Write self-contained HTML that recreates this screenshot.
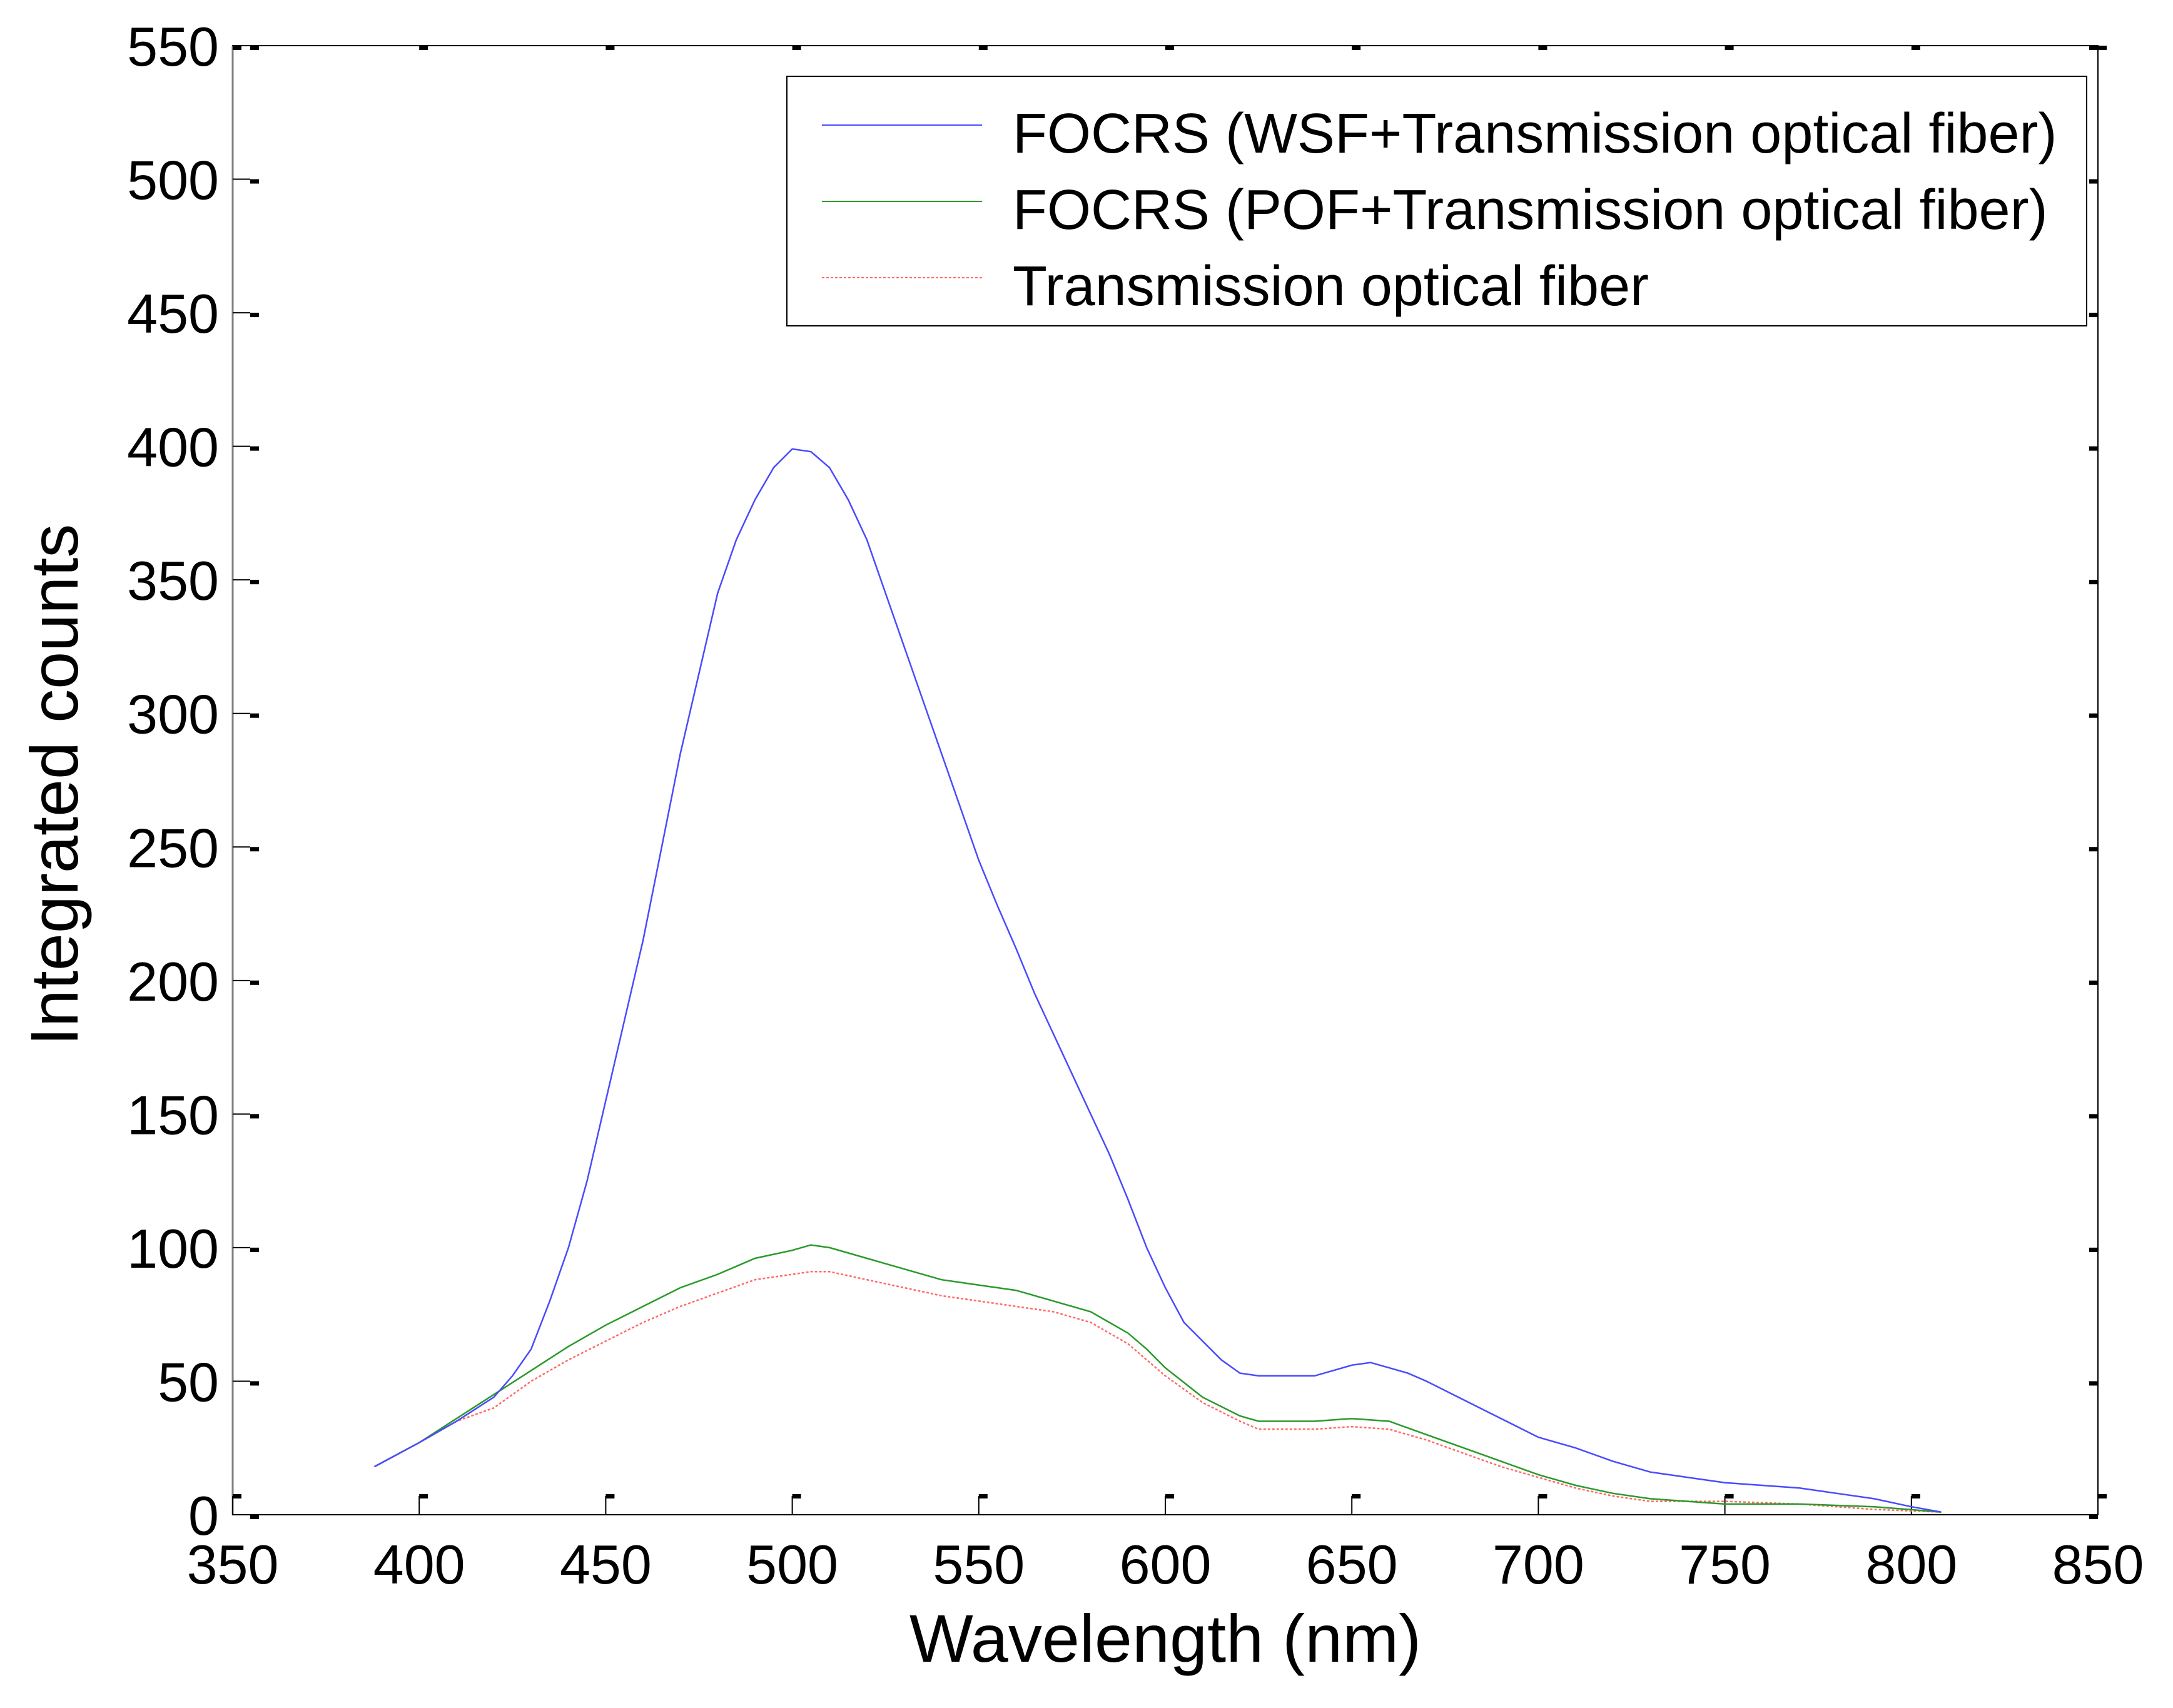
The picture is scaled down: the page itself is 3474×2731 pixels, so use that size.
<!DOCTYPE html>
<html><head><meta charset="utf-8"><style>
html,body{margin:0;padding:0;background:#fff;}
svg text{font-family:"Liberation Sans",Arial,sans-serif;fill:#000;}
</style></head><body>
<svg id="chart" width="3474" height="2726" xmlns="http://www.w3.org/2000/svg">
<rect width="3474" height="2726" fill="#fff"/>
<g id="axes"></g>
<g id="series"></g>
<g id="legend">
 <rect x="1258" y="122" width="2078" height="399" fill="#fff" stroke="#000" stroke-width="2"/>
 <line x1="1314" y1="200" x2="1570" y2="200" stroke="#4a4aff" stroke-width="2"/>
 <text x="1619" y="244" font-size="90">FOCRS (WSF+Transmission optical fiber)</text>
 <line x1="1314" y1="322" x2="1570" y2="322" stroke="#2a9a2a" stroke-width="2"/>
 <text x="1619" y="366" font-size="90">FOCRS (POF+Transmission optical fiber)</text>
 <line x1="1314" y1="444" x2="1570" y2="444" stroke="#ff6a6a" stroke-width="2" stroke-dasharray="4,3"/>
 <text x="1619" y="488" font-size="90">Transmission optical fiber</text>
</g>
<text x="1863" y="2657" font-size="108" text-anchor="middle">Wavelength (nm)</text>
<text transform="translate(124,1255) rotate(-90)" font-size="108" text-anchor="middle">Integrated counts</text>
</svg>
<script>
const xTicks=[350,400,450,500,550,600,650,700,750,800,850];
const yTicks=[0,50,100,150,200,250,300,350,400,450,500,550];
const wavelengths=[388,400,410,420,425,430,435,440,445,450,455,460,465,470,475,480,485,490,495,500,505,510,515,520,525,530,535,540,545,550,555,560,565,570,575,580,585,590,595,600,605,610,615,620,625,630,640,645,650,655,660,665,670,680,690,700,710,720,730,740,750,760,770,780,790,800,808];
const wsfCounts=[18,27,35,44,52,62,80,100,125,155,185,215,250,285,315,345,365,380,392,399,398,392,380,365,345,325,305,285,265,245,228,212,195,180,165,150,135,118,100,85,72,65,58,53,52,52,52,54,56,57,55,53,50,43,36,29,25,20,16,14,12,11,10,8,6,3,1];
const pofWl=[388,400,410,420,430,440,450,460,470,480,490,500,505,510,520,530,540,550,560,570,580,590,595,600,610,620,625,640,650,660,670,680,690,700,710,720,730,740,750,770,790,808];
const pofCounts=[18,27,36,45,54,63,71,78,85,90,96,99,101,100,96,92,88,86,84,80,76,68,62,55,44,37,35,35,36,35,30,25,20,15,11,8,6,5,4,4,3,1];
const tofWl=[388,400,410,420,430,440,450,460,470,480,490,500,505,510,520,530,540,550,560,570,580,590,600,610,620,625,640,650,660,670,680,690,700,710,720,730,750,770,790,808];
const tofCounts=[18,27,35,40,50,58,65,72,78,83,88,90,91,91,88,85,82,80,78,76,72,64,52,42,35,32,32,33,32,28,23,18,14,10,7,5,5,4,2,1];
const X0=372,X1=3354,Y0=2422,Y1=73;
function sx(v){return X0+(v-350)/500*(X1-X0);}
function sy(v){return Y0-v/550*(Y0-Y1);}
const NS="http://www.w3.org/2000/svg";
const axes=document.getElementById('axes');
function mk(tag,attrs,parent){const e=document.createElementNS(NS,tag);for(const k in attrs)e.setAttribute(k,attrs[k]);parent.appendChild(e);return e;}
mk('rect',{x:X0,y:Y1,width:X1-X0,height:Y0-Y1,fill:'none',stroke:'#000','stroke-width':2},axes);
mk('line',{x1:X0,y1:Y1,x2:X0,y2:Y0,stroke:'#808080','stroke-width':3},axes);
xTicks.forEach(t=>{
  const x=sx(t);
  const a=mk('line',{x1:x,y1:Y0,x2:x,y2:Y0-30,stroke:'#000','stroke-width':2},axes);
  
  
  mk('rect',{x:x,y:Y0-33,width:14,height:7,fill:'#000'},axes);
  mk('rect',{x:x,y:Y1,width:14,height:7,fill:'#000'},axes);
  const tx=mk('text',{x:x,y:Y0+110,'font-size':88,'text-anchor':'middle'},axes);
  tx.textContent=t;
  
  
});
yTicks.forEach(t=>{
  const y=sy(t);
  const a=mk('line',{x1:X0,y1:y,x2:X0+28,y2:y,stroke:'#000','stroke-width':2},axes);
  
  
  mk('rect',{x:X0+28,y:y,width:14,height:7,fill:'#000'},axes);
  mk('rect',{x:X1-14,y:y,width:14,height:7,fill:'#000'},axes);
  const tx=mk('text',{x:X0-22,y:y+32,'font-size':88,'text-anchor':'end'},axes);
  tx.textContent=t;
  
  
});
const series=document.getElementById('series');
function line(xs,ys,color,name,dash){
  const d=xs.map((w,i)=>(i?'L':'M')+sx(w).toFixed(1)+','+sy(ys[i]).toFixed(1)).join('');
  const p=mk('path',{d:d,fill:'none',stroke:color,'stroke-width':2.5},series);
  if(dash)p.setAttribute('stroke-dasharray',dash);
  
  
}
line(tofWl,tofCounts,'#ff6a6a','series-transmission-fiber','4,3');
line(pofWl,pofCounts,'#2a9a2a','series-pof');
line(wavelengths,wsfCounts,'#4a4aff','series-wsf');
</script>
</body></html>
